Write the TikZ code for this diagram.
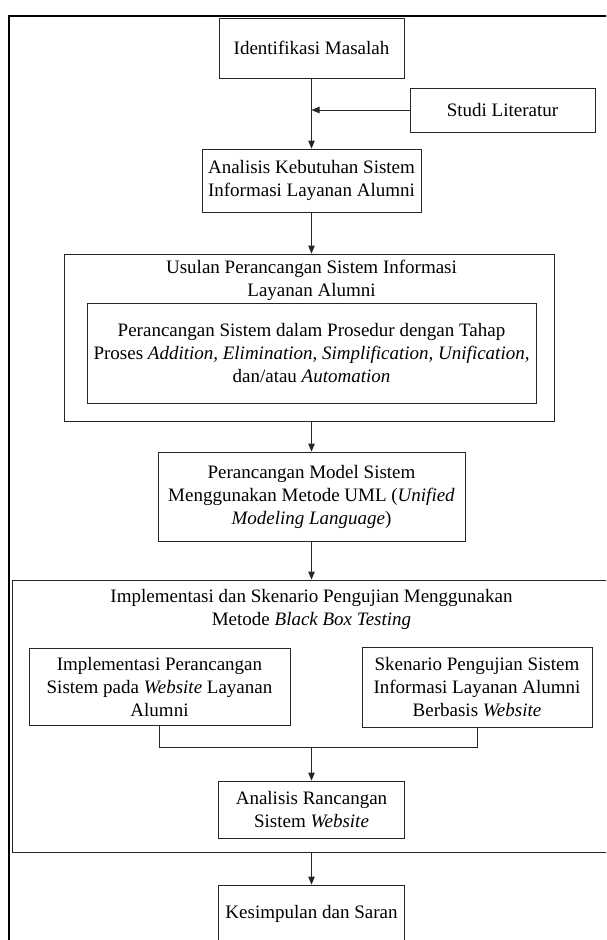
\documentclass[tikz,border=0pt]{standalone}
\usepackage{fontspec}
\setmainfont{Liberation Serif}
\usetikzlibrary{arrows.meta}
\begin{document}
\begin{tikzpicture}[x=1pt,y=-1pt,
  every node/.style={font=\fontsize{19}{23}\selectfont, align=center, inner sep=0pt},
  box/.style={draw=black!85, line width=0.9pt},
  link/.style={draw=black!85, line width=0.9pt},
  arrow/.style={link, -{Triangle[length=8pt,width=6.5pt]}}]
\clip (0,0) rectangle (606,940);
\fill[white] (0,0) rectangle (606,940);
% page frame
\draw[line width=2pt] (8.5,15.7) rectangle (640,980);

% top steps
\node[box, minimum width=185pt, minimum height=60pt] (idm) at (311.5,48) {Identifikasi Masalah};
\node[box, minimum width=185pt, minimum height=44pt] (studi) at (502.5,110) {Studi Literatur};
\node[box, minimum width=219pt, minimum height=63pt] (akb) at (311.5,180.5) {Analisis Kebutuhan Sistem\\Informasi Layanan Alumni};

% proposal group
\node[box, minimum width=490pt, minimum height=167pt] (usulan) at (309,337.5) {};
\node (usulanT) at (311.5,280.5) {Usulan Perancangan Sistem Informasi\\Layanan Alumni};
\node[box, minimum width=449pt, minimum height=100pt] (proc) at (311.5,353) {Perancangan Sistem dalam Prosedur dengan Tahap\\Proses \textit{Addition, Elimination, Simplification, Unification,}\\dan/atau \textit{Automation}};

\node[box, minimum width=307pt, minimum height=89pt] (pms) at (311.5,496.5) {Perancangan Model Sistem\\Menggunakan Metode UML (\textit{Unified}\\\textit{Modeling Language})};

% implementation and testing group
\node[box, minimum width=628pt, minimum height=272pt] (impl) at (326,716) {};
\node (implT) at (311.5,609.5) {Implementasi dan Skenario Pengujian Menggunakan\\Metode \textit{Black Box Testing}};
\node[box, minimum width=261pt, minimum height=77pt] (impL) at (159.5,686.5) {Implementasi Perancangan\\Sistem pada \textit{Website} Layanan\\Alumni};
\node[box, minimum width=230pt, minimum height=80pt] (impR) at (477,687) {Skenario Pengujian Sistem\\Informasi Layanan Alumni\\Berbasis \textit{Website}};
\coordinate (join) at (311.5,747);
\node[box, minimum width=186pt, minimum height=57pt] (arw) at (311.5,809.5) {Analisis Rancangan\\Sistem \textit{Website}};

\node[box, minimum width=186pt, minimum height=58pt] (kes) at (311.5,914) {Kesimpulan dan Saran};

% connectors
\draw[arrow] (idm.south) -- (akb.north);
\draw[arrow] (studi.west) -- (studi.west -| idm.south);
\draw[arrow] (akb.south) -- (usulan.north -| akb.south);
\draw[arrow] (usulan.south -| pms.north) -- (pms.north);
\draw[arrow] (pms.south) -- (pms.south |- impl.north);
\draw[link] (impL.south) -- (impL.south |- join) -- (impR.south |- join) -- (impR.south);
\draw[arrow] (join) -- (arw.north);
\draw[arrow] (impl.south -| kes.north) -- (kes.north);
\end{tikzpicture}
\end{document}
